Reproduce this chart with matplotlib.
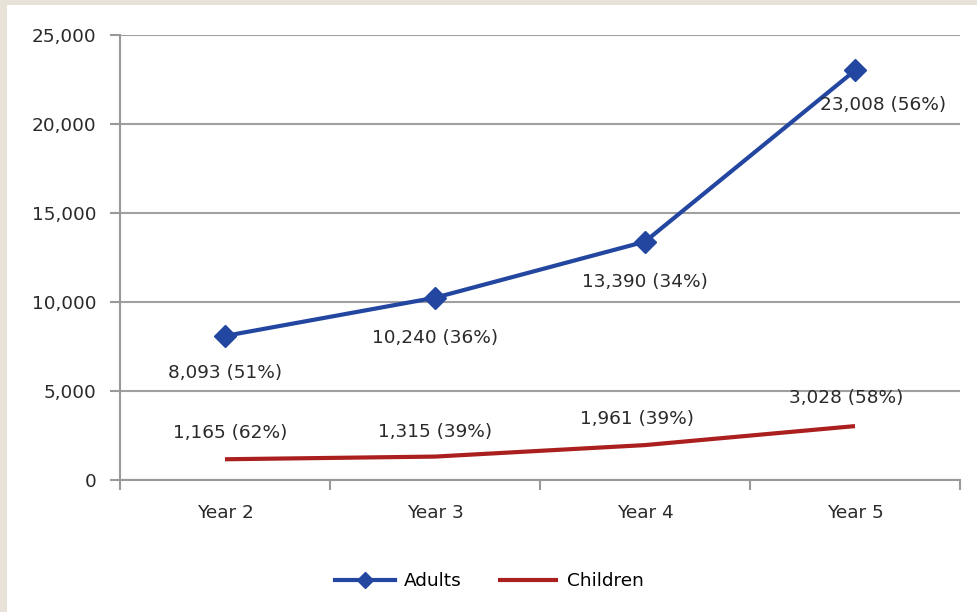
import matplotlib.pyplot as plt
from matplotlib.patches import Rectangle

years = ["Year 2", "Year 3", "Year 4", "Year 5"]
adults = [8093, 10240, 13390, 23008]
adults_pct = [51, 36, 34, 56]
children = [1165, 1315, 1961, 3028]
children_pct = [62, 39, 39, 58]

plt.rcParams['font.family'] = ['DejaVu Sans']

fig = plt.figure(figsize=(9.77, 6.12), dpi=100)
# beige frame on the left and top edges
fig.patches.append(Rectangle((0, 0), 1, 1, transform=fig.transFigure,
                             facecolor='#e8e2d9', edgecolor='none', zorder=-10))
fig.patches.append(Rectangle((7 / 977, 0), 1, 1 - 5 / 612, transform=fig.transFigure,
                             facecolor='white', edgecolor='none', zorder=-9))

ax = fig.add_axes([0.1228, 0.2157, 0.8598, 0.7271])
x = list(range(len(years)))

blue = '#2346a0'
red = '#ab1f1f'
ax.plot(x, adults, color=blue, lw=3, marker='D', markersize=11, label='Adults', zorder=3)
ax.plot(x, children, color=red, lw=3, label='Children', zorder=3, solid_capstyle='butt')

fs = 13.3
txt = '#2a2a2a'
lab = dict(fontsize=fs, color=txt)
# adult labels
adult_offs = [(0, -26.5), (0, -29), (0, -29)]
for i in range(3):
    ax.annotate(f"{adults[i]:,} ({adults_pct[i]}%)", (x[i], adults[i]), xytext=adult_offs[i],
                textcoords='offset points', ha='center', va='center', **lab)
ax.annotate(f"{adults[3]:,} ({adults_pct[3]}%)", (x[3], adults[3]), xytext=(-25, -25),
            textcoords='offset points', ha='left', va='center', **lab)
# children labels
offs = [(4, 18.7), (0, 17.7), (-6, 18.7), (-6.5, 20)]
for i in range(4):
    ax.annotate(f"{children[i]:,} ({children_pct[i]}%)", (x[i], children[i]), xytext=offs[i],
                textcoords='offset points', ha='center', va='center', **lab)

ax.set_xlim(-0.5, 3.5)
ax.set_ylim(0, 25000)
ax.set_yticks(range(0, 25001, 5000))
ax.set_yticklabels([f"{v:,}" for v in range(0, 25001, 5000)], fontsize=fs, color=txt)
ax.set_xticks(x)
ax.set_xticklabels(years, fontsize=fs, color=txt)
ax.set_xticks([-0.5, 0.5, 1.5, 2.5, 3.5], minor=True)
ax.tick_params(axis='x', which='major', length=0, pad=17)
ax.tick_params(axis='x', which='minor', length=7, color='#999999', width=1.5)
ax.tick_params(axis='y', length=7, color='#999999', width=1.5, pad=10)

ax.grid(axis='y', color='#a0a0a0', lw=1.5)
ax.set_axisbelow(True)
for s in ['top', 'right']:
    ax.spines[s].set_visible(False)
for s in ['left', 'bottom']:
    ax.spines[s].set_color('#999999')
    ax.spines[s].set_linewidth(1.5)

ax.legend(loc='upper center', bbox_to_anchor=(0.44, -0.17), ncol=2, frameon=False,
          fontsize=fs, handlelength=3.2, handletextpad=0.5, columnspacing=2.0,
          markerscale=0.75)

fig.savefig('out.png', dpi=100)
